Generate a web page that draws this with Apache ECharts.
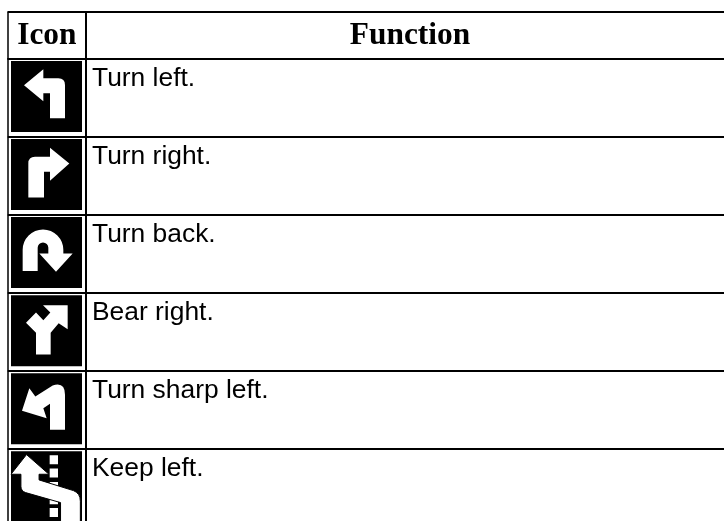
<!DOCTYPE html>
<html>
<head>
<meta charset="utf-8">
<title>Icon table</title>
<script src="https://cdn.jsdelivr.net/npm/echarts@6/dist/echarts.min.js"></script>
<style>
  html, body { margin: 0; padding: 0; background: #fff; }
  #main { width: 724px; height: 521px; }
</style>
</head>
<body>
<div id="main"></div>
<script>
  var headers = ['Icon', 'Function'];
  var functions = ['Turn left.', 'Turn right.', 'Turn back.', 'Bear right.', 'Turn sharp left.', 'Keep left.'];
  var iconNames = ['left', 'right', 'back', 'bear', 'sharp', 'keep'];
  var columnEdges = [0, 78.3, 726.3];

  // glyphs are drawn in a 213 x 213 box
  var BOUNDS = 'M0 0h0M213 213h0';
  var iconLayers = {
    left: ['M39 73L97 25V52H142Q162 52 162 72V172H117V97H97V121Z'],
    right: ['M175 73L117 26V53H72Q52 53 52 73V175H99V98H117V125Z'],
    back: ['M35 162V98A61 61 0 0 1 157 98V109H185L135 164L85 109H112V92A16 16 0 0 0 80 92V162Z'],
    bear: ['M75 178V113L45 83L75 52L97 75L118 52L96 30H170V102L143 84L119 113V178Z'],
    sharp: ['M33 113L55 45L73 70L125 37Q162 25 162 65V170H117V92L97 105L107 135Z'],
    keep: [
      'M116 12H141V39H116ZM116 52H141V79H116ZM116 92H141V119H116ZM116 132H141V159H116ZM116 170H141V197H116Z',
      'M45 10L113 69H83V86L187 118Q208 126 208 150V213H148V154L42 124Q28 119 28 105V69H-2Z'
    ]
  };

  function renderHeader(params, api) {
    var i = api.value(0);
    var left = api.coord([columnEdges[i], 0]);
    var right = api.coord([columnEdges[i + 1], 0]);
    return {
      type: 'text',
      style: {
        text: headers[i],
        x: (left[0] + right[0]) / 2,
        y: left[1] + 0.6,
        align: 'center',
        verticalAlign: 'middle',
        font: 'bold 31.4px "Liberation Serif"',
        fill: '#000'
      }
    };
  }

  function renderRow(params, api) {
    var i = api.value(0);
    var center = api.coord([columnEdges[1], i]);
    var start = api.coord([columnEdges[0], i]);
    var h = api.size([0, 1])[1];
    var top = center[1] - h / 2;
    var boxX = start[0] + 3.3;
    var boxY = top + 2.2;
    var boxSize = 71;

    var children = [{
      type: 'rect',
      shape: {x: boxX, y: boxY, width: boxSize, height: boxSize},
      style: {fill: '#000'}
    }];
    iconLayers[iconNames[i]].forEach(function (d, n) {
      children.push({
        type: 'path',
        shape: {pathData: BOUNDS + d, x: boxX, y: boxY, width: boxSize, height: boxSize, layout: 'cover'},
        layout: 'cover',
        style: n > 0 ? {fill: '#fff', stroke: '#000', lineWidth: 1} : {fill: '#fff'}
      });
    });
    children.push({
      type: 'line',
      shape: {x1: center[0], y1: top, x2: center[0], y2: top + h},
      style: {stroke: '#000', lineWidth: 2}
    });
    children.push({
      type: 'text',
      style: {
        text: functions[i],
        x: center[0] + 6,
        y: top + 19.5,
        align: 'left',
        verticalAlign: 'middle',
        font: '26.4px "Liberation Sans"',
        fill: '#000'
      }
    });
    return {type: 'group', children: children};
  }

  function blackLine(width) {
    return {show: true, lineStyle: {color: '#000', width: width}};
  }

  var chart = echarts.init(document.getElementById('main'), null, {renderer: 'canvas'});
  chart.setOption({
    animation: false,
    backgroundColor: '#fff',
    grid: [
      {left: 7.7, top: 12, width: 726.3, height: 46.8, outerBoundsMode: 'none'},
      {left: 7.7, top: 58.8, width: 726.3, height: 468.3, outerBoundsMode: 'none'}
    ],
    xAxis: [0, 1].map(function (g) {
      return {gridIndex: g, type: 'value', min: 0, max: columnEdges[2], show: false};
    }),
    yAxis: [
      {
        gridIndex: 0, type: 'category', inverse: true, data: ['header'],
        axisTick: {show: false}, axisLabel: {show: false},
        axisLine: blackLine(1.5),
        splitLine: {show: true, interval: 0, lineStyle: {color: '#000', width: 2}}
      },
      {
        gridIndex: 1, type: 'category', inverse: true, data: functions,
        axisTick: {show: false}, axisLabel: {show: false},
        axisLine: blackLine(1.5),
        splitLine: {show: true, interval: 0, lineStyle: {color: '#000', width: 2}}
      }
    ],
    series: [
      {
        type: 'custom', xAxisIndex: 0, yAxisIndex: 0, clip: false,
        data: headers.map(function (h, i) { return [i]; }),
        encode: {x: [], y: []},
        renderItem: renderHeader
      },
      {
        type: 'custom', xAxisIndex: 0, yAxisIndex: 0, clip: false,
        data: [[0]],
        encode: {x: [], y: []},
        renderItem: function (params, api) {
          var a = api.coord([columnEdges[1], 0]);
          var h = api.size([0, 1])[1];
          return {
            type: 'line',
            shape: {x1: a[0], y1: a[1] - h / 2, x2: a[0], y2: a[1] + h / 2},
            style: {stroke: '#000', lineWidth: 2}
          };
        }
      },
      {
        type: 'custom', xAxisIndex: 1, yAxisIndex: 1, clip: false,
        data: functions.map(function (f, i) { return [i, f]; }),
        encode: {x: [], y: 0},
        renderItem: renderRow
      }
    ]
  });
</script>
</body>
</html>
